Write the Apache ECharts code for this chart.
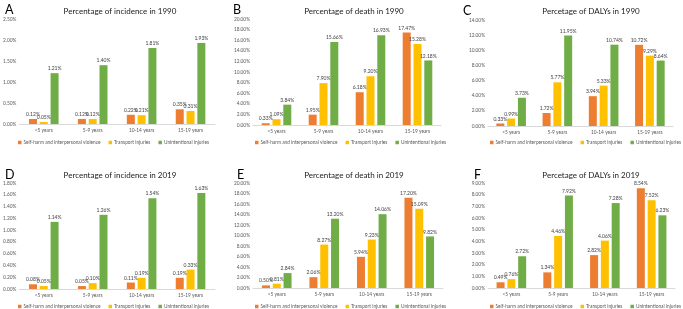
<!DOCTYPE html>
<html>
<head>
<meta charset="utf-8">
<script src="https://cdn.jsdelivr.net/npm/echarts@6/dist/echarts.min.js"></script>
<style>
  html, body { margin: 0; padding: 0; background: #fff; }
  #chart { width: 683px; height: 309px; }
</style>
</head>
<body>
<div id="chart"></div>
<script>
// categories and series
var categories = ['<5 years', '5-9 years', '10-14 years', '15-19 years'];
var seriesNames = ['Self-harm and interpersonal violence', 'Transport injuries', 'Unintentional injuries'];
var panelLetters = ['A', 'B', 'C', 'D', 'E', 'F'];
var panelTitles = [
	'Percentage of incidence in 1990', 'Percentage of death in 1990', 'Percetage of DALYs in 1990',
	'Percentage of incidence in 2019', 'Percentage of death in 2019', 'Percetage of DALYs in 2019'
];

// values (%)
var incid1990Self = [0.12, 0.12, 0.22, 0.35];
var incid1990Transport = [0.05, 0.12, 0.21, 0.31];
var incid1990Unint = [1.21, 1.40, 1.81, 1.93];

var death1990Self = [0.33, 1.95, 6.18, 17.47];
var death1990Transport = [1.09, 7.90, 9.20, 15.28];
var death1990Unint = [3.84, 15.66, 16.93, 12.18];

var dalys1990Self = [0.33, 1.72, 3.94, 10.72];
var dalys1990Transport = [0.99, 5.77, 5.33, 9.29];
var dalys1990Unint = [3.73, 11.95, 10.74, 8.64];

var incid2019Self = [0.08, 0.05, 0.11, 0.19];
var incid2019Transport = [0.05, 0.10, 0.19, 0.33];
var incid2019Unint = [1.14, 1.26, 1.54, 1.63];

var death2019Self = [0.50, 2.06, 5.94, 17.20];
var death2019Transport = [0.81, 8.27, 9.23, 15.09];
var death2019Unint = [2.84, 13.20, 14.06, 9.82];

var dalys2019Self = [0.49, 1.34, 2.82, 8.54];
var dalys2019Transport = [0.76, 4.46, 4.06, 7.52];
var dalys2019Unint = [2.72, 7.92, 7.28, 6.23];

// y axis ticks
var yMax = [2.5, 20, 14, 1.8, 20, 9];
var yStep = [0.5, 2, 2, 0.2, 2, 1];

var panelData = [
	[incid1990Self, incid1990Transport, incid1990Unint],
	[death1990Self, death1990Transport, death1990Unint],
	[dalys1990Self, dalys1990Transport, dalys1990Unint],
	[incid2019Self, incid2019Transport, incid2019Unint],
	[death2019Self, death2019Transport, death2019Unint],
	[dalys2019Self, dalys2019Transport, dalys2019Unint]
];

var colors = ['#ED7D31', '#FFC000', '#70AD47'];
var font = 'Lato';

// layout of each panel (grid box, letter, title, legend)
var layout = [
	{ grid: [15, 19, 200, 105], letter: [0, -2], title: [115, 2.5], legend: [18, 140] },
	{ grid: [253, 19, 188, 106], letter: [228, -2], title: [349, 2.5], legend: [255, 140] },
	{ grid: [488, 20, 185, 106], letter: [458, -1], title: [586, 2.5], legend: [490, 140] },
	{ grid: [15, 183, 200, 106], letter: [0, 163], title: [115, 166.5], legend: [18, 304] },
	{ grid: [253, 183, 190, 105], letter: [232, 163], title: [349, 166.5], legend: [255, 304] },
	{ grid: [488, 183, 187, 105], letter: [469, 163], title: [586, 166.5], legend: [490, 304] }
];

var chart = echarts.init(document.getElementById('chart'));

var grids = [], xAxes = [], yAxes = [], titles = [], legends = [], series = [];

layout.forEach(function (lay, i) {
	grids.push({
		left: lay.grid[0], top: lay.grid[1], width: lay.grid[2], height: lay.grid[3],
		containLabel: false
	});
	xAxes.push({
		type: 'category',
		gridIndex: i,
		data: categories,
		axisLine: { show: true, lineStyle: { color: '#d9d9d9', width: 1 } },
		axisTick: { show: false },
		axisLabel: { fontSize: 4.8, color: '#595959', fontFamily: font, margin: 4, interval: 0 }
	});
	yAxes.push({
		type: 'value',
		gridIndex: i,
		min: 0,
		max: yMax[i],
		interval: yStep[i],
		axisLine: { show: false },
		axisTick: { show: false },
		splitLine: { show: false },
		axisLabel: {
			fontSize: 4.8, color: '#595959', fontFamily: font, margin: 3,
			formatter: function (v) { return v.toFixed(2) + '%'; }
		}
	});
	titles.push({
		text: panelLetters[i],
		left: lay.letter[0], top: lay.letter[1],
		textStyle: { fontSize: 12.5, fontWeight: 'normal', color: '#000', fontFamily: font }
	});
	titles.push({
		text: panelTitles[i],
		left: lay.title[0], top: lay.title[1], textAlign: 'center',
		textStyle: { fontSize: 8, fontWeight: 'normal', color: '#1a1a1a', fontFamily: font }
	});
	legends.push({
		data: seriesNames,
		left: lay.legend[0], top: lay.legend[1],
		padding: 0,
		itemGap: 8,
		itemWidth: 3.5,
		itemHeight: 3.5,
		icon: 'rect',
		textStyle: { fontSize: 4.8, color: '#595959', fontFamily: font, padding: [0, 0, 0, -3] }
	});
	panelData[i].forEach(function (vals, j) {
		series.push({
			type: 'bar',
			name: seriesNames[j],
			xAxisIndex: i,
			yAxisIndex: i,
			data: vals,
			barWidth: 8,
			barGap: '35%',
			itemStyle: { color: colors[j] },
			label: {
				show: true,
				position: 'top',
				distance: 2,
				fontSize: 5,
				color: '#404040',
				fontFamily: font,
				formatter: function (p) { return p.value.toFixed(2) + '%'; }
			}
		});
	});
});

chart.setOption({
	animation: false,
	color: colors,
	title: titles,
	legend: legends,
	grid: grids,
	xAxis: xAxes,
	yAxis: yAxes,
	series: series
});
</script>
</body>
</html>
